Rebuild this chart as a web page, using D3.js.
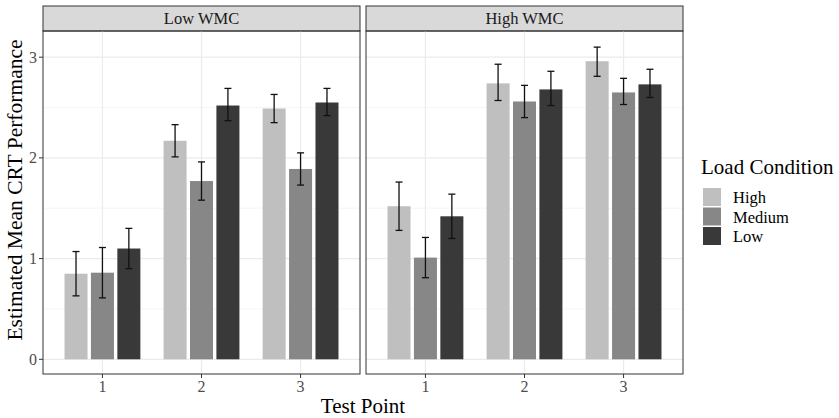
<!DOCTYPE html>
<html>
<head>
<meta charset="utf-8">
<script src="https://cdn.jsdelivr.net/npm/d3@7"></script>
<style>
body { margin: 0; background: #fff; }
text { font-family: "Liberation Serif", "Times New Roman", serif; }
</style>
</head>
<body>
<div id="chart"></div>
<script>
// data
var panels = ["Low WMC", "High WMC"];
var testPoints = ["1", "2", "3"];
var loads = ["High", "Medium", "Low"];
var yTicks = [0, 1, 2, 3];

// rows = test point, columns = load (High, Medium, Low)
var lowWmcMeans = [[0.85, 0.86, 1.10], [2.17, 1.77, 2.52], [2.49, 1.89, 2.55]];
var lowWmcLower = [[0.63, 0.61, 0.90], [2.01, 1.58, 2.37], [2.35, 1.73, 2.42]];
var lowWmcUpper = [[1.07, 1.11, 1.30], [2.33, 1.96, 2.69], [2.63, 2.05, 2.69]];
var highWmcMeans = [[1.52, 1.01, 1.42], [2.74, 2.56, 2.68], [2.96, 2.65, 2.73]];
var highWmcLower = [[1.28, 0.81, 1.20], [2.57, 2.40, 2.52], [2.81, 2.53, 2.60]];
var highWmcUpper = [[1.76, 1.21, 1.64], [2.93, 2.72, 2.86], [3.10, 2.79, 2.88]];

var fills = ["#bfbfbf", "#878787", "#393939"];

var width = 839, height = 418;
var panelTop = 31, panelBottom = 374;
var stripTop = 6;
var panelX = [43, 366];
var panelW = 317;

var svg = d3.select("#chart").append("svg")
    .attr("width", width)
    .attr("height", height);

var y = d3.scaleLinear()
    .domain([-0.146, 3.26])
    .range([panelBottom, panelTop]);

// discrete x like ggplot: positions 1..3 with 0.6 expansion each side
var x = d3.scaleLinear()
    .domain([0.4, 3.6])
    .range([0, panelW]);
var unit = x(2) - x(1);
function xc(tp) { return x(testPoints.indexOf(tp) + 1); }

var dodge = d3.scaleBand()
    .domain(loads)
    .range([-0.4 * unit, 0.4 * unit]);

var sets = [
    {means: lowWmcMeans, lower: lowWmcLower, upper: lowWmcUpper},
    {means: highWmcMeans, lower: highWmcLower, upper: highWmcUpper}
];

panels.forEach(function(name, p) {
    var g = svg.append("g").attr("transform", "translate(" + panelX[p] + ",0)");

    // strip
    g.append("rect")
        .attr("x", 0).attr("y", stripTop)
        .attr("width", panelW).attr("height", panelTop - stripTop)
        .attr("fill", "#d9d9d9").attr("stroke", "#333").attr("stroke-width", 1);
    g.append("text")
        .attr("x", panelW / 2).attr("y", (stripTop + panelTop) / 2 + 5.5)
        .attr("text-anchor", "middle")
        .attr("font-size", 16.5).attr("fill", "#1a1a1a")
        .text(name);

    // minor grid
    [0.5, 1.5, 2.5].forEach(function(v) {
        g.append("line")
            .attr("x1", 0).attr("x2", panelW)
            .attr("y1", y(v)).attr("y2", y(v))
            .attr("stroke", "#f2f2f2").attr("stroke-width", 0.7);
    });
    // major grid
    yTicks.forEach(function(v) {
        g.append("line")
            .attr("x1", 0).attr("x2", panelW)
            .attr("y1", y(v)).attr("y2", y(v))
            .attr("stroke", "#ebebeb").attr("stroke-width", 1.2);
    });
    testPoints.forEach(function(tp) {
        g.append("line")
            .attr("x1", xc(tp)).attr("x2", xc(tp))
            .attr("y1", panelTop).attr("y2", panelBottom)
            .attr("stroke", "#ebebeb").attr("stroke-width", 1.2);
    });

    var d = sets[p];
    var rows = [];
    testPoints.forEach(function(tp, i) {
        loads.forEach(function(ld, j) {
            rows.push({tp: tp, load: ld, j: j,
                m: d.means[i][j], lo: d.lower[i][j], hi: d.upper[i][j]});
        });
    });

    var bw = dodge.bandwidth();
    g.selectAll("rect.bar").data(rows).enter().append("rect")
        .attr("class", "bar")
        .attr("x", function(r) { return xc(r.tp) + dodge(r.load) + 1.7; })
        .attr("width", bw - 3.4)
        .attr("y", function(r) { return y(r.m); })
        .attr("height", function(r) { return y(0) - y(r.m); })
        .attr("fill", function(r) { return fills[r.j]; });

    var cap = 3.5;
    rows.forEach(function(r) {
        var cx = xc(r.tp) + dodge(r.load) + bw / 2;
        var eg = g.append("g").attr("stroke", "#111").attr("stroke-width", 1.3);
        eg.append("line").attr("x1", cx).attr("x2", cx).attr("y1", y(r.lo)).attr("y2", y(r.hi));
        eg.append("line").attr("x1", cx - cap).attr("x2", cx + cap).attr("y1", y(r.lo)).attr("y2", y(r.lo));
        eg.append("line").attr("x1", cx - cap).attr("x2", cx + cap).attr("y1", y(r.hi)).attr("y2", y(r.hi));
    });

    // border
    g.append("rect")
        .attr("x", 0).attr("y", panelTop)
        .attr("width", panelW).attr("height", panelBottom - panelTop)
        .attr("fill", "none").attr("stroke", "#333").attr("stroke-width", 1);

    // x axis ticks
    testPoints.forEach(function(tp) {
        g.append("line")
            .attr("x1", xc(tp)).attr("x2", xc(tp))
            .attr("y1", panelBottom).attr("y2", panelBottom + 4)
            .attr("stroke", "#333");
        g.append("text")
            .attr("x", xc(tp)).attr("y", panelBottom + 18)
            .attr("text-anchor", "middle")
            .attr("font-size", 16).attr("fill", "#4d4d4d")
            .text(tp);
    });
});

// y axis
var yAxis = svg.append("g").attr("transform", "translate(" + panelX[0] + ",0)");
yTicks.forEach(function(v) {
    yAxis.append("line")
        .attr("x1", -4).attr("x2", 0)
        .attr("y1", y(v)).attr("y2", y(v))
        .attr("stroke", "#333");
    yAxis.append("text")
        .attr("x", -6).attr("y", y(v) + 5.5)
        .attr("text-anchor", "end")
        .attr("font-size", 16).attr("fill", "#4d4d4d")
        .text(v);
});

// axis titles
svg.append("text")
    .attr("x", (panelX[0] + panelX[1] + panelW) / 2)
    .attr("y", 413)
    .attr("text-anchor", "middle")
    .attr("font-size", 21).attr("fill", "#000")
    .text("Test Point");

svg.append("text")
    .attr("transform", "translate(22," + ((stripTop + panelBottom) / 2) + ")rotate(-90)")
    .attr("text-anchor", "middle")
    .attr("font-size", 21.5).attr("fill", "#000")
    .text("Estimated Mean CRT Performance");

// legend
var legend = svg.append("g").attr("transform", "translate(701,0)");
legend.append("text")
    .attr("x", 0).attr("y", 174)
    .attr("font-size", 21).attr("fill", "#000")
    .text("Load Condition");
loads.forEach(function(ld, j) {
    legend.append("rect")
        .attr("x", 2).attr("y", 188 + j * 19.5)
        .attr("width", 18).attr("height", 18)
        .attr("fill", fills[j]);
    legend.append("text")
        .attr("x", 32).attr("y", 203 + j * 19.5)
        .attr("font-size", 16.5).attr("fill", "#000")
        .text(ld);
});
</script>
</body>
</html>
